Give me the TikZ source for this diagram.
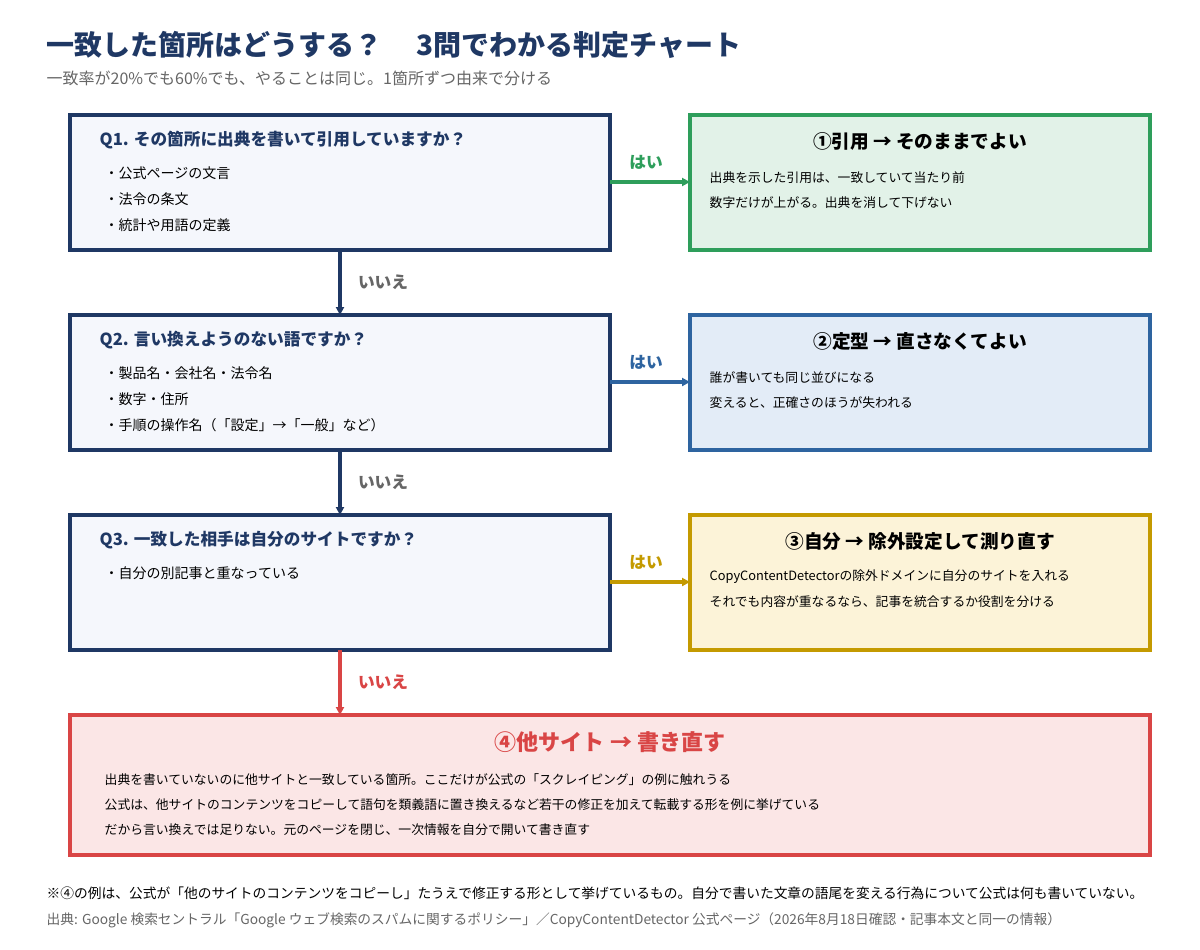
\documentclass[tikz,border=0pt]{standalone}
\usepackage{fontspec}
\setmainfont{Noto Sans CJK JP}
\usetikzlibrary{arrows.meta}
\definecolor{navy}{HTML}{1F3864}
\definecolor{qfill}{HTML}{F5F7FC}
\definecolor{gr}{HTML}{2E9E5B}\definecolor{grf}{HTML}{E2F2E8}
\definecolor{bl}{HTML}{2E64A0}\definecolor{blf}{HTML}{E3ECF7}
\definecolor{gd}{HTML}{C49A00}\definecolor{gdf}{HTML}{FCF3D8}
\definecolor{rd}{HTML}{D94545}\definecolor{rdf}{HTML}{FBE6E6}
\definecolor{gy}{HTML}{666666}
\newcommand{\fs}[1]{\fontsize{#1}{#1}\selectfont}
\begin{document}
\begin{tikzpicture}[x=0.75pt,y=-0.75pt,
 box/.style={draw=#1,line width=2.4pt},
 qt/.style={anchor=west,text=navy,font=\fs{12.5}\bfseries},
 bu/.style={anchor=west,font=\fs{10.5}},
 rt/.style={font=\fs{14}\bfseries},
 rx/.style={anchor=west,font=\fs{9.6}},
 arr/.style={-{Triangle[length=6pt,width=6pt]},line width=2.6pt,draw=#1},
 lab/.style={font=\fs{12.5}\bfseries,text=#1}]
\fill[white] (0,0) rectangle (1200,950);
\node[anchor=west,text=navy,font=\fs{21}\bfseries] (t) at (42,45) {一致した箇所はどうする？\hspace{1.2em}3問でわかる判定チャート};
\node[anchor=west,text=gy,font=\fs{12}] (st) at (42,78) {一致率が20\%でも60\%でも、やることは同じ。1箇所ずつ由来で分ける};
\draw[box=navy,fill=qfill] (70,115) rectangle (610,250);
\draw[box=navy,fill=qfill] (70,315) rectangle (610,450);
\draw[box=navy,fill=qfill] (70,515) rectangle (610,650);
\draw[box=gr,fill=grf] (690,115) rectangle (1150,250);
\draw[box=bl,fill=blf] (690,315) rectangle (1150,450);
\draw[box=gd,fill=gdf] (690,515) rectangle (1150,650);
\draw[box=rd,fill=rdf] (70,715) rectangle (1150,855);
\node[qt] (q1t) at (95,140) {Q1. その箇所に出典を書いて引用していますか？};
\node[bu] (q1a) at (100,173) {・公式ページの文言};
\node[bu] (q1b) at (100,199) {・法令の条文};
\node[bu] (q1c) at (100,225) {・統計や用語の定義};
\node[qt] (q2t) at (95,340) {Q2. 言い換えようのない語ですか？};
\node[bu] (q2a) at (100,373) {・製品名・会社名・法令名};
\node[bu] (q2b) at (100,399) {・数字・住所};
\node[bu] (q2c) at (100,425) {・手順の操作名（「設定」→「一般」など）};
\node[qt] (q3t) at (95,540) {Q3. 一致した相手は自分のサイトですか？};
\node[bu] (q3a) at (100,573) {・自分の別記事と重なっている};
\node[rt] (r1t) at (920,141) {①引用 → そのままでよい};
\node[rx] (r1a) at (705,178) {出典を示した引用は、一致していて当たり前};
\node[rx] (r1b) at (705,203) {数字だけが上がる。出典を消して下げない};
\node[rt] (r2t) at (920,341) {②定型 → 直さなくてよい};
\node[rx] (r2a) at (705,378) {誰が書いても同じ並びになる};
\node[rx] (r2b) at (705,403) {変えると、正確さのほうが失われる};
\node[rt] (r3t) at (920,541) {③自分 → 除外設定して測り直す};
\node[rx] (r3a) at (705,577) {CopyContentDetectorの除外ドメインに自分のサイトを入れる};
\node[rx] (r3b) at (705,602) {それでも内容が重なるなら、記事を統合するか役割を分ける};
\node[rt,text=rd,font=\fs{16.5}\bfseries] (r4t) at (610,742) {④他サイト → 書き直す};
\node[rx] (r4a) at (100,780) {出典を書いていないのに他サイトと一致している箇所。ここだけが公式の「スクレイピング」の例に触れうる};
\node[rx] (r4b) at (100,805) {公式は、他サイトのコンテンツをコピーして語句を類義語に置き換えるなど若干の修正を加えて転載する形を例に挙げている};
\node[rx] (r4c) at (100,830) {だから言い換えでは足りない。元のページを閉じ、一次情報を自分で開いて書き直す};
\coordinate (a1s) at (610,182); \coordinate (a1e) at (690,182);
\coordinate (a2s) at (610,382); \coordinate (a2e) at (690,382);
\coordinate (a3s) at (610,582); \coordinate (a3e) at (690,582);
\draw[arr=gr] (a1s) -- (a1e); \node[lab=gr] (h1) at (646,162) {はい};
\draw[arr=bl] (a2s) -- (a2e); \node[lab=bl] (h2) at (646,362) {はい};
\draw[arr=gd] (a3s) -- (a3e); \node[lab=gd] (h3) at (646,562) {はい};
\coordinate (d1s) at (340,250); \coordinate (d1e) at (340,315);
\coordinate (d2s) at (340,450); \coordinate (d2e) at (340,515);
\coordinate (d3s) at (340,650); \coordinate (d3e) at (340,715);
\draw[arr=navy] (d1s) -- (d1e); \node[lab=gy] (n1) at (383,282) {いいえ};
\draw[arr=navy] (d2s) -- (d2e); \node[lab=gy] (n2) at (383,482) {いいえ};
\draw[arr=rd] (d3s) -- (d3e); \node[lab=rd] (n3) at (383,682) {いいえ};
\node[anchor=west,font=\fs{10.3}] (f1) at (42,893) {※④の例は、公式が「他のサイトのコンテンツをコピーし」たうえで修正する形として挙げているもの。自分で書いた文章の語尾を変える行為について公式は何も書いていない。};
\node[anchor=west,text=gy,font=\fs{10.3}] (f2) at (42,920) {出典: Google 検索セントラル「Google ウェブ検索のスパムに関するポリシー」／CopyContentDetector 公式ページ（2026年8月18日確認・記事本文と同一の情報）};
\end{tikzpicture}
\end{document}
